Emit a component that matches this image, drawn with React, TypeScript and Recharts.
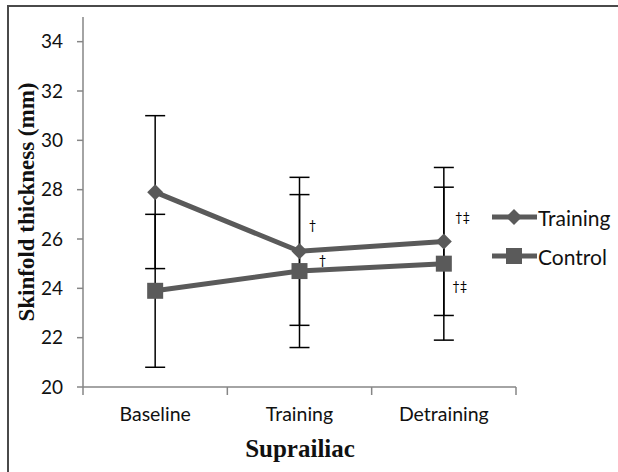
import React from 'react'
import {
  ComposedChart,
  Line,
  XAxis,
  YAxis,
  ErrorBar,
  ReferenceDot,
} from 'recharts'

const categories = ['Baseline', 'Training', 'Detraining']
const trainingMean = [27.9, 25.5, 25.9]
const trainingSd = [3.1, 3.0, 3.0]
const controlMean = [23.9, 24.7, 25.0]
const controlSd = [3.1, 3.1, 3.1]
const yTicks = [20, 22, 24, 26, 28, 30, 32, 34]

// significance marks, placed in data units (x = category axis units, y = mm)
const marks = [
  { x: 1.59, y: 26.53, text: '†' },
  { x: 1.66, y: 25.15, text: '†' },
  { x: 2.63, y: 26.86, text: '†‡' },
  { x: 2.61, y: 24.06, text: '†‡' },
]

const data = categories.map((name, i) => ({
  x: i + 0.5,
  name,
  training: trainingMean[i],
  trainingSd: trainingSd[i],
  control: controlMean[i],
  controlSd: controlSd[i],
}))

const LINE = '#5a5a5a'
const AXIS = '#868686'
const SANS = 'Lato, "Open Sans", sans-serif'
const SERIF = '"Liberation Serif", "Times New Roman", serif'

const xTickValues = [0, 0.5, 1, 1.5, 2, 2.5, 3]

const XTick = (props: any) => {
  const { x, y, payload } = props
  const v: number = payload.value
  if (Number.isInteger(v))
    return <line x1={x} x2={x} y1={y} y2={y + 8} stroke={AXIS} strokeWidth={1.5} />
  return (
    <text x={x} y={y + 34} textAnchor="middle" fontFamily={SANS} fontSize={19.5} fill="#111">
      {categories[Math.floor(v)]}
    </text>
  )
}

const Diamond = ({ cx, cy, size = 8 }: any) => (
  <polygon
    points={`${cx},${cy - size} ${cx + size},${cy} ${cx},${cy + size} ${cx - size},${cy}`}
    fill={LINE}
  />
)

const Square = ({ cx, cy, size = 8 }: any) => (
  <rect x={cx - size} y={cy - size} width={size * 2} height={size * 2} fill={LINE} />
)

const renderDiamond = (p: any) => <Diamond key={`d${p.index}`} cx={p.cx} cy={p.cy} />
const renderSquare = (p: any) => <Square key={`s${p.index}`} cx={p.cx} cy={p.cy} />

const MarkLabel = (props: any) => {
  const { viewBox, value } = props
  const cx = viewBox.x + (viewBox.width || 0) / 2
  const cy = viewBox.y + (viewBox.height || 0) / 2
  return (
    <text x={cx} y={cy} dy="0.35em" textAnchor="middle" fontFamily={SANS} fontSize={13} fill="#000">
      {value}
    </text>
  )
}

const LegendRow = ({ label, shape, top }: { label: string; shape: 'diamond' | 'square'; top: number }) => (
  <div style={{ position: 'absolute', left: 490, top, height: 24, display: 'flex', alignItems: 'center' }}>
    <svg width={48} height={24}>
      <line x1={2} x2={47} y1={12} y2={12} stroke={LINE} strokeWidth={5} />
      {shape === 'diamond' ? <Diamond cx={24} cy={12} /> : <Square cx={24} cy={12} />}
    </svg>
    <span style={{ fontFamily: SANS, fontSize: 21, color: '#111' }}>{label}</span>
  </div>
)

export default function App() {
  return (
    <div style={{ position: 'absolute', left: 0, top: 0, width: 618, height: 472, background: '#fff' }}>
      <div
        style={{
          position: 'absolute',
          left: 7,
          top: 5,
          width: 611,
          height: 467,
          borderTop: '2px solid #4a4a4a',
          borderLeft: '2px solid #4a4a4a',
        }}
      />
      <ComposedChart
        width={618}
        height={472}
        data={data}
        margin={{ top: 17, right: 102, left: 0, bottom: 40 }}
        style={{ position: 'absolute', left: 0, top: 0 }}
      >
        <XAxis
          dataKey="x"
          type="number"
          domain={[0, 3]}
          ticks={xTickValues}
          interval={0}
          tickLine={false}
          tickSize={0}
          tickMargin={0}
          tick={<XTick />}
          axisLine={{ stroke: AXIS, strokeWidth: 1.5 }}
          height={45}
        />
        <YAxis
          type="number"
          domain={[20, 35]}
          ticks={yTicks}
          interval={0}
          width={83}
          tickSize={6}
          tickMargin={14}
          axisLine={{ stroke: AXIS, strokeWidth: 1.5 }}
          tickLine={{ stroke: AXIS, strokeWidth: 1.5 }}
          tick={{ fontFamily: SANS, fontSize: 19, fill: '#111' }}
          allowDataOverflow
        />
        <Line
          dataKey="control"
          stroke={LINE}
          strokeWidth={5}
          dot={renderSquare}
          activeDot={false}
          isAnimationActive={false}
        >
          <ErrorBar dataKey="controlSd" direction="y" width={10} stroke="#000" strokeWidth={1.5} />
        </Line>
        <Line
          dataKey="training"
          stroke={LINE}
          strokeWidth={5}
          dot={renderDiamond}
          activeDot={false}
          isAnimationActive={false}
        >
          <ErrorBar dataKey="trainingSd" direction="y" width={10} stroke="#000" strokeWidth={1.5} />
        </Line>
        {marks.map((m, i) => (
          <ReferenceDot
            key={i}
            x={m.x}
            y={m.y}
            r={0}
            fill="none"
            stroke="none"
            label={<MarkLabel value={m.text} />}
          />
        ))}
      </ComposedChart>
      <LegendRow label="Training" shape="diamond" top={205} />
      <LegendRow label="Control" shape="square" top={244} />
      <div
        style={{
          position: 'absolute',
          left: 27,
          top: 202,
          transform: 'translate(-50%, -50%) rotate(-90deg)',
          fontFamily: SERIF,
          fontWeight: 'bold',
          fontSize: 23,
          whiteSpace: 'nowrap',
          color: '#111',
        }}
      >
        Skinfold thickness (mm)
      </div>
      <div
        style={{
          position: 'absolute',
          left: 0,
          top: 435,
          width: 600,
          textAlign: 'center',
          fontFamily: SERIF,
          fontWeight: 'bold',
          fontSize: 25,
          color: '#111',
        }}
      >
        Suprailiac
      </div>
    </div>
  )
}
